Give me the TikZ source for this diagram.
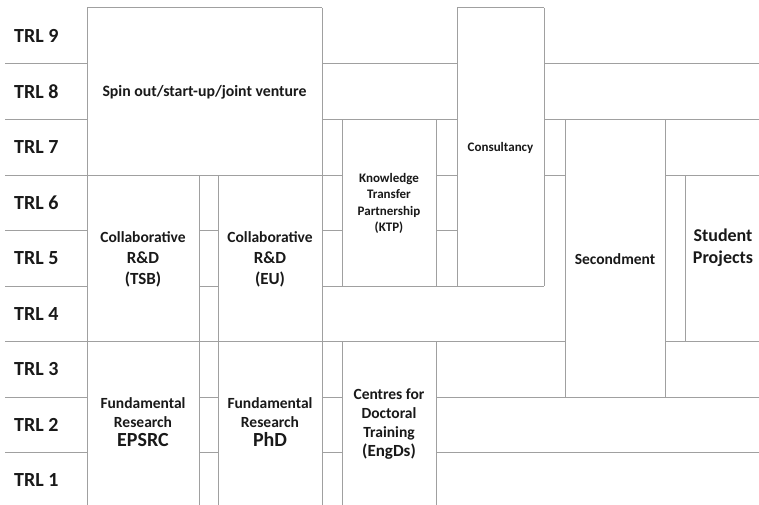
\documentclass[tikz,border=0pt]{standalone}
\usepackage{fontspec}
\setmainfont{Carlito}
\definecolor{linegray}{RGB}{160,160,160}
\definecolor{textdark}{RGB}{25,25,25}
\begin{document}
\begin{tikzpicture}[x=1pt,y=-1pt,
  gridline/.style={draw=linegray, line width=1pt},
  lbl/.style={anchor=west, inner sep=0pt, text=textdark, font=\bfseries\fontsize{20}{24}\selectfont},
  boxtext/.style={inner sep=0pt, align=center, text=textdark, font=\bfseries}]
\useasboundingbox (0,0) rectangle (759,505);
\fill[white] (0,0) rectangle (759,505);
\begin{scope}
\clip (0,0) rectangle (759,505);
% horizontal lines
\path[gridline] (5,64) -- (87,64) (322,64) -- (457,64) (544,64) -- (759,64);
\path[gridline] (5,120) -- (87,120) (322,120) -- (457,120) (544,120) -- (759,120);
\path[gridline] (5,175) -- (342,175) (436,175) -- (457,175) (544,175) -- (565,175) (665,175) -- (759,175);
\path[gridline] (5,230) -- (87,230) (199,230) -- (218,230) (322,230) -- (342,230) (436,230) -- (457,230);
\path[gridline] (5,286) -- (87,286) (199,286) -- (218,286) (322,286) -- (544,286);
\path[gridline] (5,341) -- (565,341) (665,341) -- (759,341);
\path[gridline] (5,397) -- (87,397) (199,397) -- (218,397) (322,397) -- (342,397) (436,397) -- (759,397);
\path[gridline] (5,452) -- (87,452) (199,452) -- (218,452) (322,452) -- (342,452) (436,452) -- (759,452);
\path[gridline] (87,8) -- (322,8) (457,8) -- (544,8);
% vertical lines
\path[gridline] (87,8) -- (87,506) (199,175) -- (199,506) (218,175) -- (218,506) (322,8) -- (322,506);
\path[gridline] (342,120) -- (342,286) (342,341) -- (342,506) (436,120) -- (436,286) (436,341) -- (436,506);
\path[gridline] (457,8) -- (457,286) (544,8) -- (544,286);
\path[gridline] (565,120) -- (565,397) (665,120) -- (665,397) (685,175) -- (685,341);
\end{scope}
% TRL labels
\node[lbl] (t9) at (14,36) {TRL 9};
\node[lbl] (t8) at (14,92) {TRL 8};
\node[lbl] (t7) at (14,147.5) {TRL 7};
\node[lbl] (t6) at (14,203) {TRL 6};
\node[lbl] (t5) at (14,258.5) {TRL 5};
\node[lbl] (t4) at (14,314) {TRL 4};
\node[lbl] (t3) at (14,369.5) {TRL 3};
\node[lbl] (t2) at (14,425) {TRL 2};
\node[lbl] (t1) at (14,480) {TRL 1};
% box texts
\node[boxtext, font=\bfseries\fontsize{15.8}{18}\selectfont] (spin) at (204.5,92) {Spin out/start-up/joint venture};
\node[boxtext, font=\bfseries\fontsize{13}{16}\selectfont] (cons) at (500.5,148) {Consultancy};
\node[boxtext, font=\bfseries\fontsize{13}{16.3}\selectfont] (ktp) at (389,203.5) {Knowledge\\Transfer\\Partnership\\(KTP)};
\node[boxtext, font=\bfseries\fontsize{15.5}{18}\selectfont] (sec) at (615,259) {Secondment};
\node[boxtext, font=\bfseries\fontsize{18}{22}\selectfont] (stud) at (723,247.5) {Student\\Projects};
\node[boxtext, font=\bfseries\fontsize{15.5}{21}\selectfont] (tsb) at (143,259) {Collaborative\\{\fontsize{17}{21}\selectfont R\&D}\\{\fontsize{17}{21}\selectfont (TSB)}};
\node[boxtext, font=\bfseries\fontsize{15.5}{21}\selectfont] (eu) at (270,259) {Collaborative\\{\fontsize{17}{21}\selectfont R\&D}\\{\fontsize{17}{21}\selectfont (EU)}};
\node[boxtext, font=\bfseries\fontsize{15.5}{19}\selectfont] (epsrc) at (143,422) {Fundamental\\Research\\{\fontsize{20}{19}\selectfont EPSRC}};
\node[boxtext, font=\bfseries\fontsize{15.5}{19}\selectfont] (phd) at (270,422) {Fundamental\\Research\\{\fontsize{20}{19}\selectfont PhD}};
\node[boxtext, font=\bfseries\fontsize{15.5}{19}\selectfont] (cdt) at (389,424.5) {Centres for\\Doctoral\\Training\\{\fontsize{17}{19}\selectfont (EngDs)}};
\end{tikzpicture}
\end{document}
